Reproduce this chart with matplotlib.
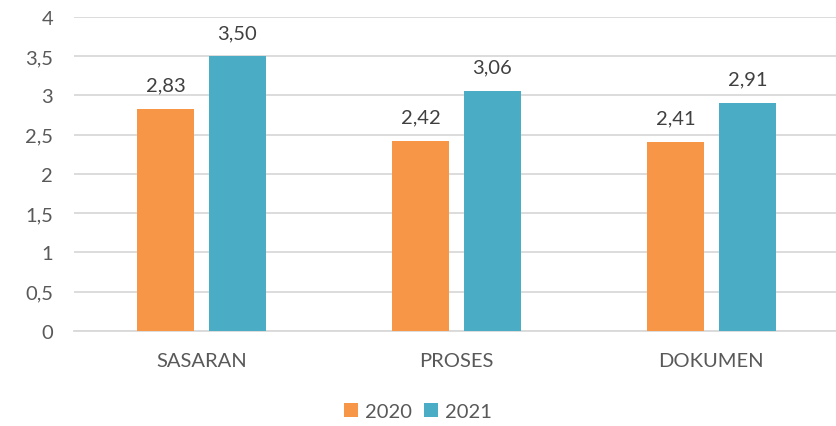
import matplotlib.pyplot as plt
import numpy as np

categories = ['SASARAN', 'PROSES', 'DOKUMEN']
years = ['2020', '2021']
values_2020 = [2.83, 2.42, 2.41]
values_2021 = [3.50, 3.06, 2.91]
yticks = [0, 0.5, 1, 1.5, 2, 2.5, 3, 3.5, 4]

plt.rcParams['font.family'] = ['Lato', 'DejaVu Sans']
text_color = '#595959'
grid_color = '#D9D9D9'
colors = ['#F79646', '#4BACC6']
fs = 14.5


def fmt(v):
    # comma as decimal separator
    return f'{v:.2f}'.replace('.', ',')


def fmt_tick(v):
    s = f'{v:g}'
    return s.replace('.', ',')


fig = plt.figure(figsize=(8.36, 4.27), dpi=100)
ax = fig.add_axes([0.0885, 0.2225, 0.915, 0.7354])

x = np.arange(len(categories))
width = 0.224
offset = 0.141

for i, (vals, color) in enumerate(zip([values_2020, values_2021], colors)):
    pos = x - offset if i == 0 else x + offset
    b = ax.bar(pos, vals, width=width, color=color, label=years[i], zorder=3)
    for rect, v in zip(b, vals):
        ax.annotate(fmt(v), (rect.get_x() + rect.get_width() / 2, v),
                    xytext=(0, 11), textcoords='offset points',
                    ha='center', va='bottom', fontsize=fs, color='#404040')

ax.set_xlim(-0.5, 2.5)
ax.set_ylim(0, 4)
ax.set_yticks(yticks)
ax.set_yticklabels([fmt_tick(t) for t in yticks])
ax.set_xticks(x)
ax.set_xticklabels(categories)
ax.tick_params(axis='both', length=0, labelsize=fs, labelcolor=text_color)
ax.tick_params(axis='y', pad=15)
ax.tick_params(axis='x', pad=15)

ax.yaxis.grid(True, color=grid_color, linewidth=1.3, zorder=0)
for side in ['top', 'right', 'left']:
    ax.spines[side].set_visible(False)
ax.spines['bottom'].set_color(grid_color)
ax.spines['bottom'].set_linewidth(1.3)

fig.legend(loc='center', bbox_to_anchor=(0.5, 0.035), ncol=2, frameon=False,
           fontsize=fs, labelcolor=text_color, handlelength=0.7,
           handleheight=0.7, handletextpad=0.35, columnspacing=0.6)

fig.savefig('out.png', dpi=100)
